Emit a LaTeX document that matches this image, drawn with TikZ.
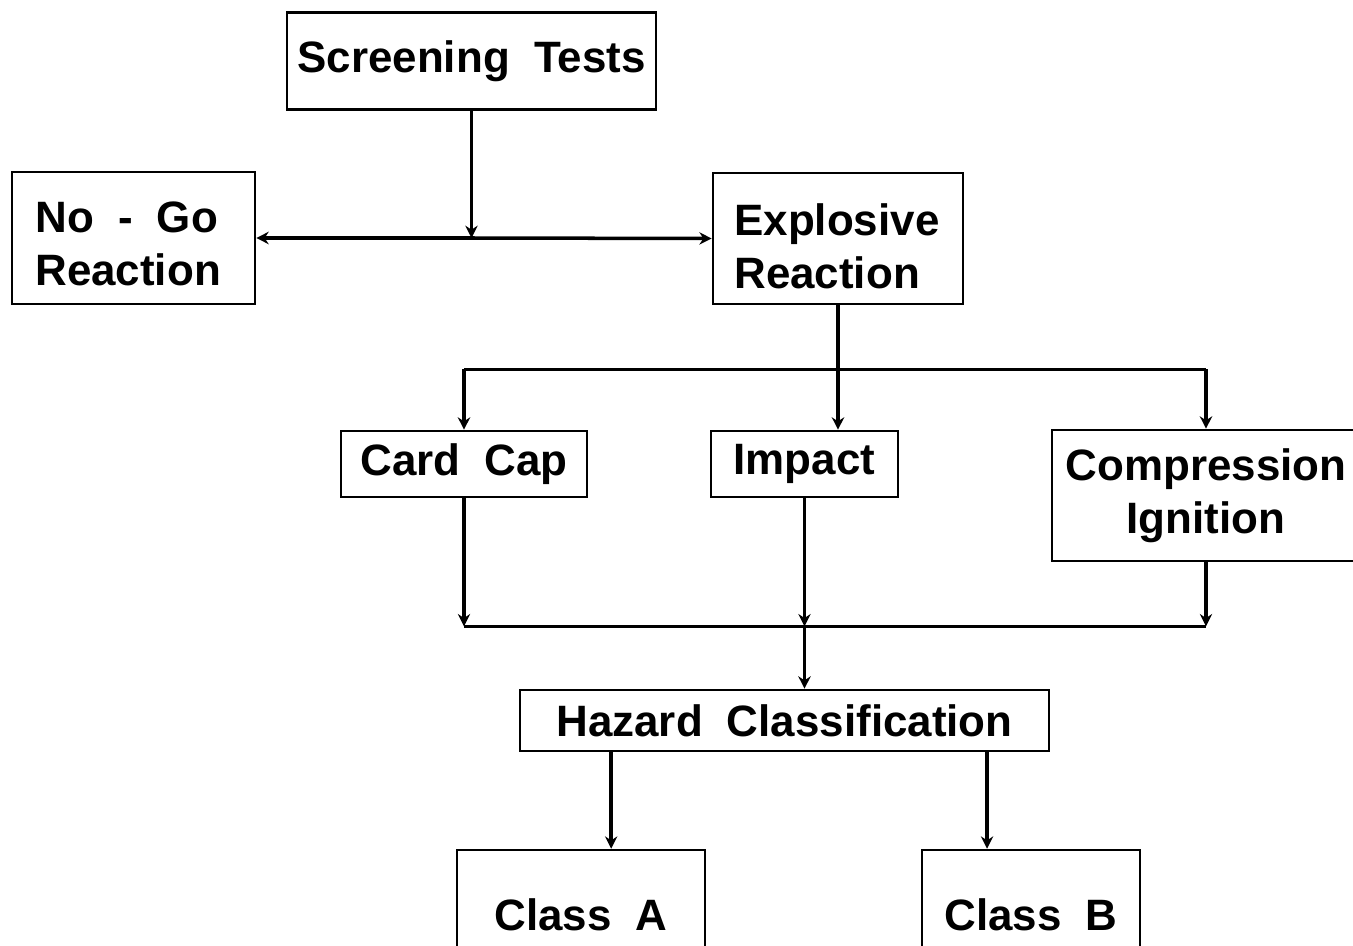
\documentclass[tikz,border=0pt]{standalone}
\usepackage{fontspec}
\setmainfont{Liberation Sans}
\usetikzlibrary{arrows.meta,calc}
\tikzset{
  x=0.02cm, y=-0.02cm,
  box/.style={draw, line width=1.5pt, inner sep=0pt, align=center,
    font=\fontsize{25}{30}\selectfont\bfseries},
  label text/.style={font=\fontsize{25}{30}\selectfont\bfseries, align=left,
    anchor=west, inner sep=0pt},
  link/.style={line width=2pt},
  arr/.style={link, -{Stealth[length=7pt,width=7pt]}},
}
\newcommand\gap{\hspace{0.55em}}
\begin{document}
\begin{tikzpicture}
\useasboundingbox (0,0) rectangle (1353,946);
\fill[white] (0,0) rectangle (1353,946);

% boxes
\node[box, minimum width={369*0.02cm}, minimum height={97*0.02cm}] (scr) at (471.5,61) {\raisebox{-0.12em}{Screening\gap Tests}};
\node[box, minimum width={243*0.02cm}, minimum height={132*0.02cm}] (nogo) at (133.5,238) {};
\node[label text] (nogot) at (35,244) {No\gap -\gap Go\\Reaction};
\node[box, minimum width={250*0.02cm}, minimum height={131*0.02cm}] (expl) at (838,238.5) {};
\node[label text] (explt) at (734,246) {Explosive\\Reaction};
\node[box, minimum width={246*0.02cm}, minimum height={66*0.02cm}] (card) at (464,464) {Card\gap Cap};
\node[box, minimum width={187*0.02cm}, minimum height={66*0.02cm}] (imp) at (804.5,464) {Impact};
\node[box, minimum width={308*0.02cm}, minimum height={131*0.02cm}] (comp) at (1206,495.5) {Compression\\Ignition};
\node[box, minimum width={529*0.02cm}, minimum height={61*0.02cm}] (haz) at (784.5,720.5) {Hazard\gap Classification};
\node[box, minimum width={248*0.02cm}, minimum height={130*0.02cm}] (ca) at (581,915) {Class\gap A};
\node[box, minimum width={218*0.02cm}, minimum height={130*0.02cm}] (cb) at (1031,915) {Class\gap B};

% screening tests splits into the two outcomes
\coordinate (j1) at (scr.south |- nogo.east);
\draw[arr] (scr.south) -- (j1);
\draw[arr] (j1) -- (nogo.east);
\draw[arr] (j1) -- (expl.west);

% explosive reaction branches to the three tests
\coordinate (j2) at ($(expl.south)+(0,64)$);
\draw[link] (expl.south) -- (j2);
\draw[link] (card.north |- j2) -- (comp.north |- j2);
\draw[arr] (card.north |- j2) -- (card.north);
\draw[arr] (j2) -- (j2 |- imp.north);
\draw[arr] (comp.north |- j2) -- (comp.north);

% test results merge into hazard classification
\coordinate (j3) at ($(imp.south)+(0,128)$);
\draw[arr] (card.south) -- (card.south |- j3);
\draw[arr] (imp.south) -- (j3);
\draw[arr] (comp.south) -- (comp.south |- j3);
\draw[link] (card.south |- j3) -- (comp.south |- j3);
\draw[arr] (j3) -- (j3 |- haz.north);

% hazard classification to the two classes
\coordinate (h1) at ($(haz.south west)!0.174!(haz.south east)$);
\coordinate (h2) at ($(haz.south west)!0.881!(haz.south east)$);
\draw[arr] (h1) -- (h1 |- ca.north);
\draw[arr] (h2) -- (h2 |- cb.north);
\end{tikzpicture}
\end{document}
